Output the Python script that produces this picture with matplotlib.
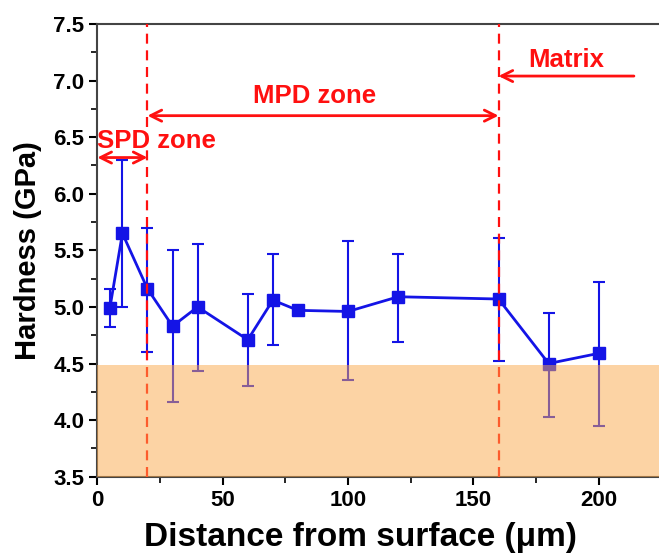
import matplotlib.pyplot as plt
from matplotlib.ticker import MultipleLocator

plt.rcParams['font.family'] = ['Liberation Sans', 'DejaVu Sans']
plt.rcParams['font.weight'] = 'bold'

# hardness profile vs. distance from the treated surface
distance = [5, 10, 20, 30, 40, 60, 70, 80, 100, 120, 160, 180, 200]
hardness = [4.99, 5.65, 5.16, 4.83, 5.00, 4.71, 5.06, 4.97, 4.96, 5.09, 5.07, 4.50, 4.59]
err_low = [4.82, 5.00, 4.60, 4.16, 4.43, 4.30, 4.66, 4.95, 4.35, 4.69, 4.52, 4.03, 3.95]
err_high = [5.16, 6.30, 5.70, 5.50, 5.56, 5.11, 5.47, 4.99, 5.58, 5.47, 5.61, 4.95, 5.22]

# zone boundaries (um) and matrix hardness level (GPa)
spd_end = 20
mpd_end = 160
matrix_level = 4.49

blue = '#1414E6'
red = '#FF1010'

fig = plt.figure(figsize=(6.59, 5.58), dpi=100)
ax = fig.add_axes([0.1477, 0.1457, 0.8523, 0.8113])

yerr = [[h - lo for h, lo in zip(hardness, err_low)],
        [hi - h for h, hi in zip(hardness, err_high)]]
ax.errorbar(distance, hardness, yerr=yerr, color=blue, lw=2, marker='s',
            markersize=8, capsize=4, capthick=1.5, elinewidth=1.5, zorder=3)

for xb in (spd_end, mpd_end):
    ax.axvline(xb, color=red, ls=(0, (4.5, 3)), lw=1.6, zorder=4)

# matrix hardness band
ax.axhspan(3.5, matrix_level, facecolor='#FBA84A', alpha=0.5, lw=0, zorder=5)

arrow = dict(color=red, lw=2, shrinkA=0, shrinkB=0, mutation_scale=20)
ax.annotate('', xy=(0, 6.32), xytext=(spd_end, 6.32),
            arrowprops=dict(arrowstyle='<->', **arrow), zorder=6)
ax.annotate('', xy=(spd_end, 6.69), xytext=(mpd_end, 6.69),
            arrowprops=dict(arrowstyle='<->', **arrow), zorder=6)
ax.annotate('', xy=(mpd_end, 7.04), xytext=(214, 7.04),
            arrowprops=dict(arrowstyle='->', **arrow), zorder=6)

ax.text(0, 6.47, 'SPD zone', color=red, fontsize=18.5, fontweight='bold',
        ha='left', va='center', zorder=6)
ax.text(86.5, 6.86, 'MPD zone', color=red, fontsize=18.5, fontweight='bold',
        ha='center', va='center', zorder=6)
ax.text(187, 7.18, 'Matrix', color=red, fontsize=18.5, fontweight='bold',
        ha='center', va='center', zorder=6)

ax.set_xlim(0, 224)
ax.set_ylim(3.5, 7.5)
ax.xaxis.set_major_locator(MultipleLocator(50))
ax.xaxis.set_minor_locator(MultipleLocator(25))
ax.yaxis.set_major_locator(MultipleLocator(0.5))
ax.yaxis.set_minor_locator(MultipleLocator(0.25))
ax.tick_params(which='major', direction='out', length=6, width=1.5,
               labelsize=16, top=False, right=False)
ax.tick_params(which='minor', direction='out', length=4, width=1.2,
               top=False, right=False)
ax.spines['right'].set_visible(False)
for s in ('left', 'bottom', 'top'):
    ax.spines[s].set_linewidth(1.5)
    ax.spines[s].set_color('#444444')

ax.set_xlabel('Distance from surface (μm)', fontsize=24, fontweight='bold')
ax.set_ylabel('Hardness (GPa)', fontsize=21, fontweight='bold')
ax.xaxis.set_label_coords(0.469, -0.10)
ax.yaxis.set_label_coords(-0.098, 0.5)

fig.savefig('out.png', dpi=100)
